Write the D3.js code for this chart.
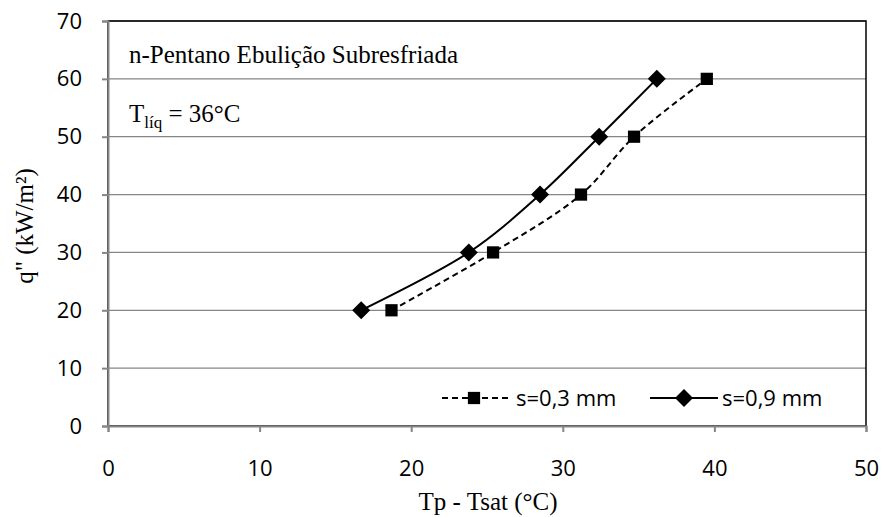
<!DOCTYPE html>
<html>
<head>
<meta charset="utf-8">
<script src="https://cdn.jsdelivr.net/npm/d3@7"></script>
<style>
  body { margin: 0; background: #fff; }
  .tick text { font-family: "Open Sans", Lato, sans-serif; font-size: 22px; fill: #000; }
</style>
</head>
<body>
<div id="chart"></div>
<script>
// s=0,3 mm (quadrados, tracejado)
const dT03 = [18.7, 25.4, 31.2, 34.7, 39.5];
const q03 = [20, 30, 40, 50, 60];
// s=0,9 mm (losangos, contínuo)
const dT09 = [16.7, 23.8, 28.5, 32.4, 36.2];
const q09 = [20, 30, 40, 50, 60];
const xTicks = [0, 10, 20, 30, 40, 50];
const yTicks = [0, 10, 20, 30, 40, 50, 60, 70];

const W = 882, H = 517;
const margin = { top: 21, right: 16, bottom: 91, left: 108 };
const width = W - margin.left - margin.right;
const height = H - margin.top - margin.bottom;

const svg = d3.select("#chart").append("svg")
    .attr("width", W).attr("height", H);
const g = svg.append("g")
    .attr("transform", `translate(${margin.left},${margin.top})`);

const x = d3.scaleLinear().domain([0, 50]).range([0, width]);
const y = d3.scaleLinear().domain([0, 70]).range([height, 0]);

// linhas de grade
g.selectAll(".grid").data(yTicks.slice(1)).enter().append("line")
    .attr("x1", 0).attr("x2", width)
    .attr("y1", d => y(d)).attr("y2", d => y(d))
    .attr("stroke", "#868686").attr("stroke-width", 1.3);

// borda da área
g.append("rect").attr("width", width).attr("height", height)
    .attr("fill", "none").attr("stroke", "#000").attr("stroke-width", 1.5);

// eixos
const xAxis = g.append("g").attr("transform", `translate(0,${height})`)
    .call(d3.axisBottom(x).tickValues(xTicks).tickSize(6).tickPadding(28));
const yAxis = g.append("g")
    .call(d3.axisLeft(y).tickValues(yTicks).tickSize(6).tickPadding(20));
[xAxis, yAxis].forEach(a => {
    a.select(".domain").attr("stroke", "#868686").attr("stroke-width", 2);
    a.selectAll(".tick line").attr("stroke", "#868686").attr("stroke-width", 2);
});

const line = d3.line().curve(d3.curveCatmullRom.alpha(0.5))
    .x(d => x(d[0])).y(d => y(d[1]));

const s03 = dT03.map((d, i) => [d, q03[i]]);
const s09 = dT09.map((d, i) => [d, q09[i]]);

g.append("path").datum(s03).attr("d", line)
    .attr("fill", "none").attr("stroke", "#000").attr("stroke-width", 2)
    .attr("stroke-dasharray", "6,4");
g.append("path").datum(s09).attr("d", line)
    .attr("fill", "none").attr("stroke", "#000").attr("stroke-width", 2);

const sq = d3.symbol().type(d3.symbolSquare).size(150);
const dia = d3.symbol().type(d3.symbolSquare).size(162);

g.selectAll(".sq").data(s03).enter().append("path")
    .attr("d", sq).attr("transform", d => `translate(${x(d[0])},${y(d[1])})`)
    .attr("fill", "#000");
g.selectAll(".dia").data(s09).enter().append("path")
    .attr("d", dia).attr("transform", d => `translate(${x(d[0])},${y(d[1])}) rotate(45)`)
    .attr("fill", "#000");

// legenda
const leg = svg.append("g");
const ly = 398;
const legFont = "'Open Sans', Lato, sans-serif";
leg.append("line").attr("x1", 442).attr("x2", 508).attr("y1", ly).attr("y2", ly)
    .attr("stroke", "#000").attr("stroke-width", 2).attr("stroke-dasharray", "6,4");
leg.append("path").attr("d", sq).attr("transform", `translate(474,${ly})`).attr("fill", "#000");
leg.append("text").attr("x", 516).attr("y", ly + 8)
    .style("font-family", legFont).style("font-size", "22px")
    .text("s=0,3 mm");
leg.append("line").attr("x1", 650).attr("x2", 718).attr("y1", ly).attr("y2", ly)
    .attr("stroke", "#000").attr("stroke-width", 2);
leg.append("path").attr("d", dia).attr("transform", `translate(684,${ly}) rotate(45)`).attr("fill", "#000");
leg.append("text").attr("x", 722).attr("y", ly + 8)
    .style("font-family", legFont).style("font-size", "22px")
    .text("s=0,9 mm");

// anotações
const serif = "'Liberation Serif', 'Times New Roman', serif";
svg.append("text").attr("x", 129).attr("y", 63)
    .style("font-family", serif).style("font-size", "25px")
    .text("n-Pentano Ebulição Subresfriada");
const t = svg.append("text").attr("x", 129).attr("y", 122)
    .style("font-family", serif).style("font-size", "25px");
t.append("tspan").text("T");
t.append("tspan").attr("dy", 6).style("font-size", "17px").text("líq");
t.append("tspan").attr("dy", -6).text(" = 36°C");

// títulos dos eixos
svg.append("text").attr("x", 488).attr("y", 510)
    .attr("text-anchor", "middle")
    .style("font-family", serif).style("font-size", "25px")
    .text("Tp - Tsat (°C)");
svg.append("text")
    .attr("transform", `translate(33,226) rotate(-90)`)
    .attr("text-anchor", "middle")
    .style("font-family", serif).style("font-size", "25px")
    .text("q\" (kW/m²)");
</script>
</body>
</html>
